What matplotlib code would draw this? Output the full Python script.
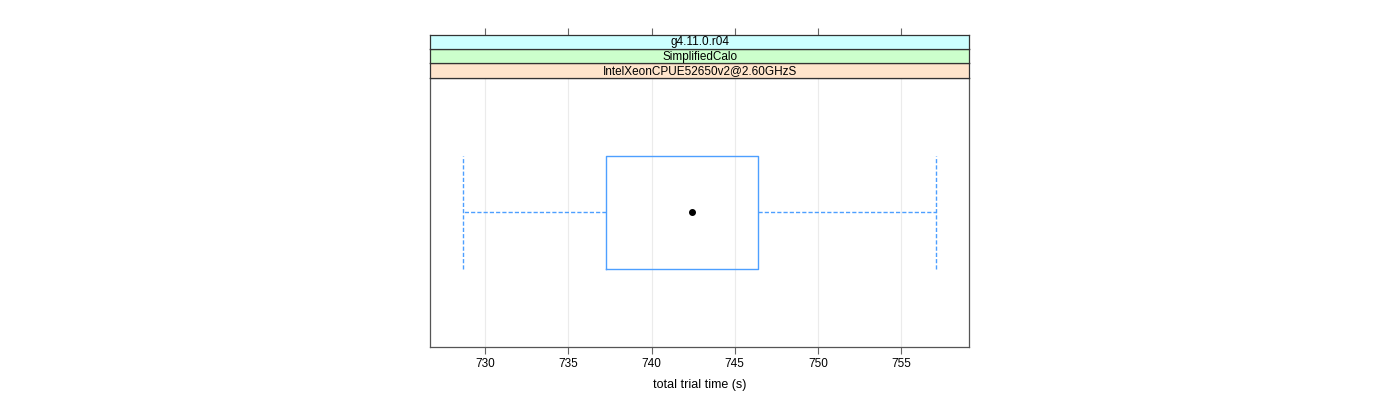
import matplotlib
matplotlib.use("Agg")
import matplotlib.pyplot as plt

plt.rcParams['font.family'] = ['Liberation Sans', 'DejaVu Sans']

# Data
strip_labels = ["IntelXeonCPUE52650v2@2.60GHzS", "SimplifiedCalo", "g4.11.0.r04"]
strip_colors = ["#ffe5cc", "#ccffcc", "#ccffff"]
whisker_low = 728.70
q1 = 737.27
median = 742.41
q3 = 746.42
whisker_high = 757.11
xticks = [730, 735, 740, 745, 750, 755]
xlabel = "total trial time (s)"

xlim = (726.70, 759.08)

fig = plt.figure(figsize=(14, 4), dpi=100)
W, H = 1400, 400
left_px, right_px = 430, 969.3
bottom_px, top_px = 347.3, 77.5
strip_h = 14.3

ax = fig.add_axes([left_px / W, 1 - bottom_px / H, (right_px - left_px) / W, (bottom_px - top_px) / H])
ax.set_xlim(*xlim)
ax.set_ylim(0.4, 1.6)

# grid
for t in xticks:
    ax.axvline(t, color="#ebebeb", lw=0.8, zorder=0)

box_col = "#4d9fff"
stats = [dict(whislo=whisker_low, q1=q1, med=median, q3=q3, whishi=whisker_high, fliers=[])]
ax.bxp(stats, positions=[1], widths=0.5, vert=False, showfliers=False,
       capwidths=[0.5],
       boxprops=dict(color=box_col, lw=1.0),
       whiskerprops=dict(color=box_col, lw=1.0, linestyle=(0, (3, 1.5))),
       capprops=dict(color=box_col, lw=1.0, linestyle=(0, (3, 1.5))),
       medianprops=dict(visible=False))
ax.plot([median], [1], marker="o", color="black", markersize=4, zorder=5)

ax.set_yticks([])
ax.set_xticks(xticks)
ax.set_xticklabels([str(t) for t in xticks])
ax.tick_params(axis="x", direction="out", length=5, width=0.8, color="#666666",
               labelsize=8.5, pad=3)
for s in ax.spines.values():
    s.set_color("#555555")
    s.set_linewidth(0.9)
ax.set_xlabel(xlabel, fontsize=9, labelpad=6)

# strips
for i, (lab, col) in enumerate(zip(strip_labels, strip_colors)):
    y_top = top_px - strip_h * (i + 1)
    sax = fig.add_axes([left_px / W, 1 - (y_top + strip_h) / H, (right_px - left_px) / W, strip_h / H])
    sax.set_facecolor(col)
    sax.set_xlim(*xlim)
    sax.set_ylim(0, 1)
    sax.set_yticks([])
    for s in sax.spines.values():
        s.set_color("#333333")
        s.set_linewidth(0.9)
    sax.text(0.5, 0.45, lab, transform=sax.transAxes, ha="center", va="center", fontsize=8.5)
    if i == len(strip_labels) - 1:
        sax.set_xticks(xticks)
        sax.tick_params(axis="x", bottom=False, top=True, labelbottom=False, labeltop=False,
                        direction="out", length=5, width=0.8, color="#666666")
    else:
        sax.set_xticks([])

fig.savefig("out.png", dpi=100)
